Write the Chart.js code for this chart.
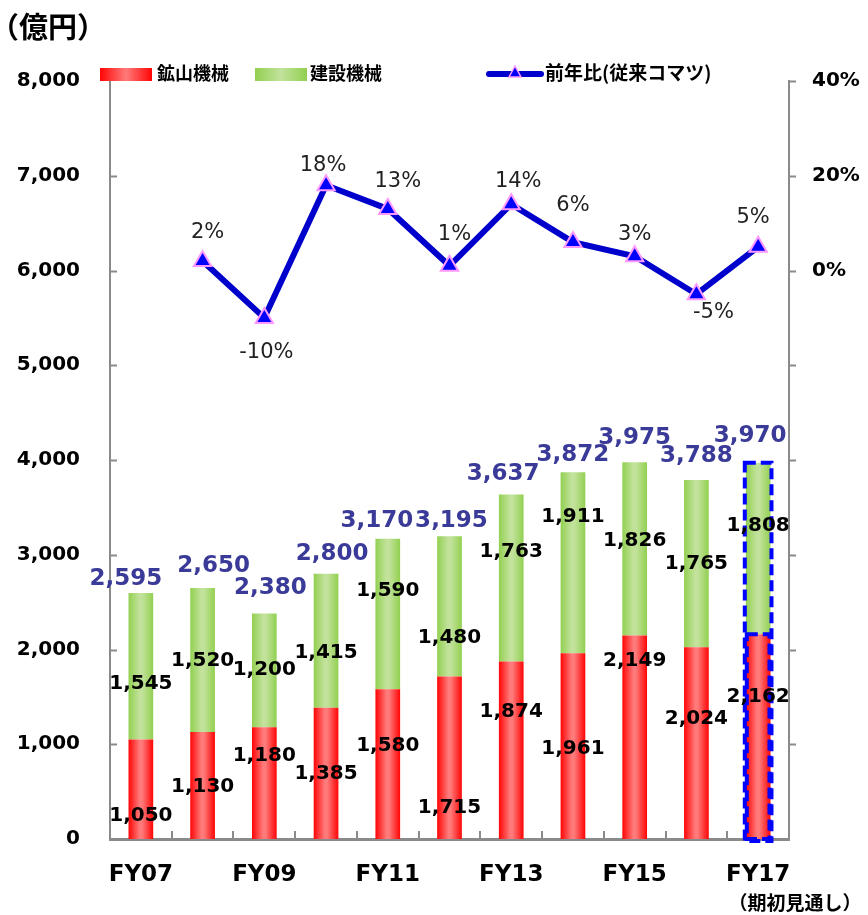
<!DOCTYPE html>
<html>
<head>
<meta charset="utf-8">
<script src="https://cdn.jsdelivr.net/npm/chart.js@4.4.1/dist/chart.umd.min.js"></script>
<style>
  html, body { margin: 0; padding: 0; background: #fff; }
  #chart { display: block; }
</style>
</head>
<body>
<canvas id="chart" width="868" height="915"></canvas>
<script>
// values (億円, %)
const years = ["FY07","FY08","FY09","FY10","FY11","FY12","FY13","FY14","FY15","FY16","FY17"];
const mining = [1050, 1130, 1180, 1385, 1580, 1715, 1874, 1961, 2149, 2024, 2162];
const construction = [1545, 1520, 1200, 1415, 1590, 1480, 1763, 1911, 1826, 1765, 1808];
const totals = [2595, 2650, 2380, 2800, 3170, 3195, 3637, 3872, 3975, 3788, 3970];
const yoy = [null, 2, -10, 18, 13, 1, 14, 6, 3, -5, 5];

// where the value labels sit in the picture (in 億円 on the left axis)
const miningLabelAt = [243, 549, 876, 686, 982, 327, 1340, 950, 1879, 1266, 1499];
const constructionLabelAt = [1636, 1879, 1784, 1963, 2617, 2121, 3029, 3398, 3145, 2902, 3303];
const totalLabelAt = [2744, 2881, 2649, 3008, 3356, 3356, 3852, 4053, 4232, 4042, 4253];
const totalLabelDx = [-15, 11, 6, 6, -11, 2, -8, 0, 0, 0, -8];
// nudges (px) of the % labels from their points
const yoyLabelDx = [0, 5, 2, -3, 10, 5, 7, 0, 0, 17, -5];
const yoyLabelDy = [0, -28, 35, -20, -27, -31, -23, -37, -22, 18, -29];

const NUM_FONT = '"DejaVu Sans", "Noto Sans CJK JP", sans-serif';
const JP_FONT = '"Noto Sans CJK JP", "DejaVu Sans", sans-serif';
const RED = ["#ff0505", "#ff7a7a"];
const GREEN = ["#92d050", "#c2e29c"];
const AXIS = "#8a8a8a";

function fmt(v){ return new Intl.NumberFormat("en-US").format(v); }

function barFill(ctx, stops){
  const chart = ctx.chart;
  const xs = chart.scales.x;
  if(ctx.type !== "data" || !chart.chartArea || !xs) return stops[0];
  const cx = xs.getPixelForValue(ctx.dataIndex);
  const w = xs.width / years.length * 0.4;
  const g = chart.ctx.createLinearGradient(cx - w/2, 0, cx + w/2, 0);
  g.addColorStop(0, stops[0]);
  g.addColorStop(0.45, stops[1]);
  g.addColorStop(0.55, stops[1]);
  g.addColorStop(1, stops[0]);
  return g;
}

const decor = {
  id: "decor",
  afterDatasetsDraw(chart){
    const c = chart.ctx;
    const y = chart.scales.y;
    const mMeta = chart.getDatasetMeta(1), cMeta = chart.getDatasetMeta(2);

    // FY17 forecast: dashed outline
    const last = years.length - 1;
    const mb = mMeta.data[last], cb = cMeta.data[last];
    c.save();
    c.strokeStyle = "#0000ff";
    c.lineWidth = 4;
    c.setLineDash([11, 5]);
    c.strokeRect(mb.x - mb.width/2 - 1, cb.y, mb.width + 2, mb.base - cb.y + 2);
    c.strokeRect(mb.x - mb.width/2 + 1, mb.y, mb.width - 2, mb.base - mb.y);
    c.restore();

    c.save();
    c.textAlign = "center";
    c.textBaseline = "middle";
    c.font = "bold 20px " + NUM_FONT;
    c.fillStyle = "#000";
    years.forEach((_, i) => {
      const x = mMeta.data[i].x;
      c.fillText(fmt(mining[i]), x, y.getPixelForValue(miningLabelAt[i]));
      c.fillText(fmt(construction[i]), x, y.getPixelForValue(constructionLabelAt[i]));
    });
    c.font = "bold 23px " + NUM_FONT;
    c.fillStyle = "#3a3a98";
    years.forEach((_, i) => {
      c.fillText(fmt(totals[i]), mMeta.data[i].x + totalLabelDx[i], y.getPixelForValue(totalLabelAt[i]));
    });
    c.font = "21px " + NUM_FONT;
    c.fillStyle = "#222";
    const lMeta = chart.getDatasetMeta(0);
    yoy.forEach((v, i) => {
      if(v === null) return;
      const p = lMeta.data[i];
      c.fillText(v + "%", p.x + yoyLabelDx[i], p.y + yoyLabelDy[i]);
    });
    c.restore();
  },
  afterDraw(chart){
    const c = chart.ctx;
    const a = chart.chartArea;
    const y = chart.scales.y, y1 = chart.scales.y1;
    c.save();
    // tick marks
    c.strokeStyle = AXIS;
    c.lineWidth = 2;
    c.beginPath();
    for(let v = 1000; v < 8000; v += 1000){
      const py = Math.round(y.getPixelForValue(v)) + 0.5;
      c.moveTo(a.left, py); c.lineTo(a.left + 7, py);
    }
    for(let v = -100; v <= 40; v += 20){
      const py = Math.round(y1.getPixelForValue(v)) + 0.5;
      c.moveTo(a.right, py); c.lineTo(a.right + 7, py);
    }
    const step = (a.right - a.left) / years.length;
    for(let k = 1; k < years.length; k++){
      const px = Math.round(a.left + k * step);
      c.moveTo(px, a.bottom); c.lineTo(px, a.bottom - 8);
    }
    c.stroke();

    // unit
    c.fillStyle = "#000";
    c.textBaseline = "middle";
    c.textAlign = "left";
    c.font = "bold 29px " + JP_FONT;
    c.fillText("（億円）", -10, 27);

    // forecast note under FY17
    c.textAlign = "center";
    c.font = "bold 19px " + JP_FONT;
    c.fillText("（期初見通し）", 795, 903);

    // legend
    const sw = (x, stops) => {
      const g = c.createLinearGradient(x, 0, x + 52, 0);
      g.addColorStop(0, stops[0]); g.addColorStop(0.5, stops[1]); g.addColorStop(1, stops[0]);
      c.fillStyle = g;
      c.fillRect(x, 68, 52, 13);
    };
    sw(100, RED);
    sw(255, GREEN);
    c.strokeStyle = "#0000cc";
    c.lineWidth = 6;
    c.lineCap = "round";
    c.beginPath(); c.moveTo(489, 74); c.lineTo(541, 74); c.stroke();
    c.beginPath();
    c.moveTo(515, 66); c.lineTo(521, 77); c.lineTo(509, 77); c.closePath();
    c.fillStyle = "#0000ff"; c.fill();
    c.lineWidth = 1.5; c.strokeStyle = "#ff99ff"; c.stroke();
    c.fillStyle = "#000";
    c.textAlign = "left";
    c.font = "bold 18px " + JP_FONT;
    c.fillText("鉱山機械", 157, 73);
    c.fillText("建設機械", 310, 73);
    c.font = "bold 19px " + JP_FONT;
    c.fillText("前年比(従来コマツ)", 545, 73);
    c.restore();
  }
};

new Chart(document.getElementById("chart"), {
  type: "bar",
  data: {
    labels: years,
    datasets: [
      {
        type: "line", label: "前年比(従来コマツ)", data: yoy, yAxisID: "y1", order: 0,
        borderColor: "#0000cc", borderWidth: 6, tension: 0,
        pointStyle: "triangle", pointRadius: 10, pointBackgroundColor: "#0000ff",
        pointBorderColor: "#ff99ff", pointBorderWidth: 2
      },
      {
        label: "鉱山機械", data: mining, yAxisID: "y", order: 1, stack: "s",
        backgroundColor: ctx => barFill(ctx, RED),
        barPercentage: 0.4, categoryPercentage: 1
      },
      {
        label: "建設機械", data: construction, yAxisID: "y", order: 1, stack: "s",
        backgroundColor: ctx => barFill(ctx, GREEN),
        barPercentage: 0.4, categoryPercentage: 1
      }
    ]
  },
  options: {
    responsive: false,
    animation: false,
    devicePixelRatio: 1,
    layout: { padding: { top: 81, left: 0, right: 0, bottom: 0 } },
    plugins: { legend: { display: false }, tooltip: { enabled: false } },
    scales: {
      x: {
        stacked: true,
        grid: { display: false, drawTicks: false },
        border: { color: AXIS, width: 3 },
        ticks: {
          autoSkip: false, maxRotation: 0, padding: 22, color: "#000",
          font: { family: NUM_FONT, size: 23, weight: "bold" },
          callback: (v, i) => i % 2 === 0 ? years[i] : ""
        },
        afterFit: s => { s.height = 76; }
      },
      y: {
        stacked: true, min: 0, max: 8000,
        grid: { display: false, drawTicks: false },
        border: { color: AXIS, width: 2 },
        ticks: {
          stepSize: 1000, padding: 30, color: "#000",
          font: { family: NUM_FONT, size: 20, weight: "bold" },
          callback: v => fmt(v)
        },
        afterFit: s => { s.width = 110; }
      },
      y1: {
        position: "right", min: -120, max: 40,
        grid: { display: false, drawTicks: false },
        border: { color: AXIS, width: 2 },
        ticks: {
          stepSize: 20, padding: 23, color: "#000",
          font: { family: NUM_FONT, size: 20, weight: "bold" },
          callback: v => v >= 0 ? v + "%" : ""
        },
        afterFit: s => { s.width = 79; }
      }
    }
  },
  plugins: [decor]
});
</script>
</body>
</html>
